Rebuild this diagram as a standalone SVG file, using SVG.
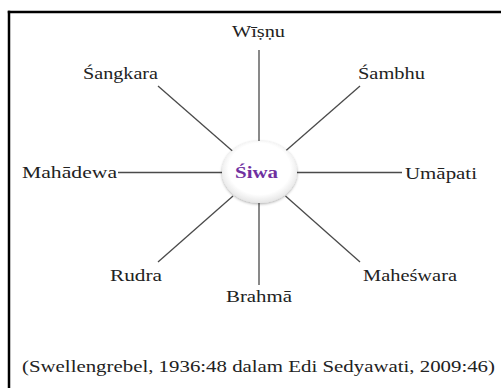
<svg xmlns="http://www.w3.org/2000/svg" width="501" height="388" viewBox="0 0 501 388">
<style>
.lbl{font-family:"Liberation Serif","Times New Roman",serif;font-size:17px;fill:#222}
.ln{stroke:#4a4a4a;stroke-width:1.3;fill:none}
.frame{stroke:#000;stroke-width:2.5;fill:none}
</style>
<defs>
<radialGradient id="eg" cx="0.5" cy="0.45" r="0.55">
<stop offset="0.75" stop-color="#ffffff"/>
<stop offset="1" stop-color="#e6e6e6"/>
</radialGradient>
<filter id="sh" x="-20%" y="-20%" width="140%" height="140%">
<feGaussianBlur in="SourceAlpha" stdDeviation="1.5"/>
<feOffset dy="1"/>
<feComponentTransfer><feFuncA type="linear" slope="0.35"/></feComponentTransfer>
<feMerge><feMergeNode/><feMergeNode in="SourceGraphic"/></feMerge>
</filter>
</defs>
<rect width="501" height="388" fill="#fff"/>
<g id="frame">
<line class="frame" x1="7.8" y1="12" x2="501" y2="12"/>
<line class="frame" x1="9" y1="10.8" x2="9" y2="388"/>
</g>
<g id="connectors">
<line class="ln" x1="259" y1="50" x2="259" y2="141"/>
<line class="ln" x1="259" y1="203" x2="259" y2="285"/>
<line class="ln" x1="118" y1="172.5" x2="222" y2="172.5"/>
<line class="ln" x1="297" y1="172.5" x2="402" y2="172.5"/>
<line class="ln" x1="158" y1="86" x2="233" y2="151.5"/>
<line class="ln" x1="360" y1="86" x2="285.5" y2="151"/>
<line class="ln" x1="233" y1="196" x2="158" y2="262"/>
<line class="ln" x1="285.5" y1="196" x2="360" y2="262"/>
</g>
<g id="siwa">
<ellipse cx="259.5" cy="172" rx="37.5" ry="31" fill="url(#eg)" filter="url(#sh)"/>
<text x="235" y="177.5" textLength="43" lengthAdjust="spacingAndGlyphs" style="font-family:'Liberation Serif','Times New Roman',serif;font-size:17px;font-weight:bold;fill:#7030A0">Śiwa</text>
</g>
<g id="wisnu"><text class="lbl" x="232" y="37" textLength="53" lengthAdjust="spacingAndGlyphs">Wīṣṇu</text></g>
<g id="sangkara"><text class="lbl" x="83" y="79" textLength="75" lengthAdjust="spacingAndGlyphs">Śangkara</text></g>
<g id="sambhu"><text class="lbl" x="358" y="79" textLength="67" lengthAdjust="spacingAndGlyphs">Śambhu</text></g>
<g id="mahadewa"><text class="lbl" x="22" y="178" textLength="95" lengthAdjust="spacingAndGlyphs">Mahādewa</text></g>
<g id="umapati"><text class="lbl" x="405" y="178.5" textLength="72" lengthAdjust="spacingAndGlyphs">Umāpati</text></g>
<g id="rudra"><text class="lbl" x="110" y="281" textLength="52" lengthAdjust="spacingAndGlyphs">Rudra</text></g>
<g id="maheswara"><text class="lbl" x="363" y="280.5" textLength="94" lengthAdjust="spacingAndGlyphs">Maheśwara</text></g>
<g id="brahma"><text class="lbl" x="226" y="302" textLength="66" lengthAdjust="spacingAndGlyphs">Brahmā</text></g>
<g id="caption"><text class="lbl" x="22" y="372" textLength="473" lengthAdjust="spacingAndGlyphs">(Swellengrebel, 1936:48 dalam Edi Sedyawati, 2009:46)</text></g>
</svg>
